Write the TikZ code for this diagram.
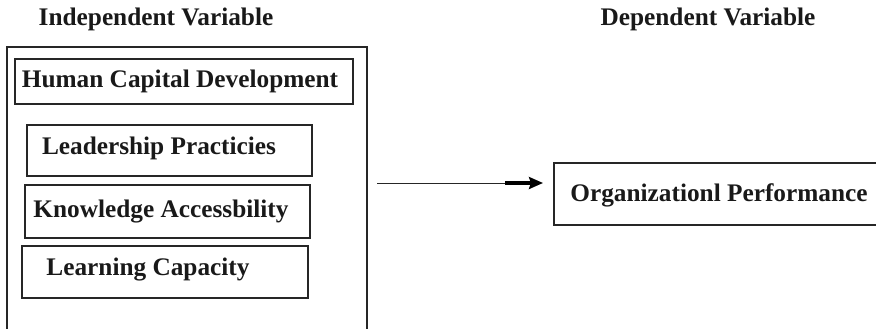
\documentclass[tikz,border=0pt]{standalone}
\usepackage{fontspec}
\setmainfont{Liberation Serif}
\usetikzlibrary{arrows.meta}
\begin{document}
\begin{tikzpicture}[x=1pt,y=-1pt,
  box/.style={draw=black!85,line width=1.3pt,inner sep=0pt,rectangle},
  lab/.style={font=\fontsize{25.3}{28}\selectfont\bfseries,inner sep=0pt,text=black!90},
  conn/.style={draw=black!85,line width=1pt}]
\useasboundingbox (0,0) rectangle (876,329);
\clip (0,0) rectangle (876,329);
% titles
\node[lab] (tin) at (156,19) {Independent Variable};
\node[lab] (tdep) at (708,19) {Dependent Variable};
% outer box
\node[box,minimum width=360pt,minimum height=300pt] (outer) at (187,197) {};
% inner boxes
\node[box,minimum width=338pt,minimum height=45pt] (hcd) at (184,81.5) {};
\node[lab] (hcdt) at (180,81) {Human Capital Development};
\node[box,minimum width=285pt,minimum height=51pt] (lp) at (169.5,150.5) {};
\node[lab] (lpt) at (159,148) {Leadership Practicies};
\node[box,minimum width=285pt,minimum height=53pt] (ka) at (167.5,211.5) {};
\node[lab] (kat) at (161,212) {Knowledge Accessbility};
\node[box,minimum width=286pt,minimum height=52pt] (lc) at (165,272) {};
\node[lab] (lct) at (148,270) {Learning Capacity};
% dependent box
\node[box,minimum width=340pt,minimum height=62pt] (op) at (724,194) {};
\node[lab] (opt) at (719,195) {Organizationl Performance};
% arrow
\coordinate (a0) at (377,183);
\coordinate (a1) at (505,183);
\coordinate (a2) at (543,183);
\draw[conn] (a0) -- (a1);
\draw[draw=black,line width=4pt,-{Stealth[length=14pt,width=12pt,inset=2pt]}] (a1) -- (a2);
\end{tikzpicture}
\end{document}
